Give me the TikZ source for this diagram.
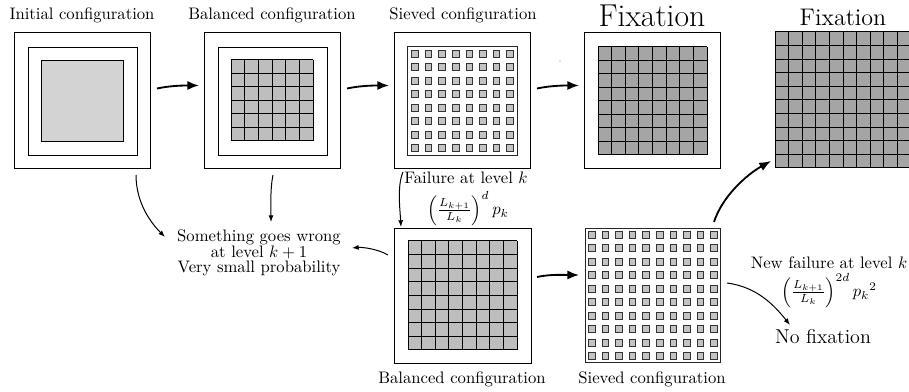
\documentclass[tikz,border=0pt]{standalone}
\usetikzlibrary{arrows.meta}
\definecolor{lightfill}{RGB}{211,211,211}
\definecolor{midfill}{RGB}{190,190,190}
\definecolor{darkfill}{RGB}{165,165,165}
\definecolor{sqfill}{RGB}{195,195,195}
\newcommand{\cellgrid}[6]{%
  \fill[#6] (#1,#2) rectangle (#3,#4);
  \foreach \i in {0,...,#5} {
    \draw[gridline] ({#1+(#3-#1)*\i/#5},#2) -- ({#1+(#3-#1)*\i/#5},#4);
    \draw[gridline] (#1,{#2+(#4-#2)*\i/#5}) -- (#3,{#2+(#4-#2)*\i/#5});
  }}
\newcommand{\sievegrid}[5]{%
  \foreach \i in {1,...,#5} {
    \foreach \j in {1,...,#5} {
      \draw[sq] ({#1+(#3-#1)*(\i-0.5)/#5-3.3},{#2+(#4-#2)*(\j-0.5)/#5-3.3}) rectangle +(6.6,6.6);
    }}}
\begin{document}
\begin{tikzpicture}[x=0.6pt,y=-0.6pt,
  frame/.style={draw=black,line width=0.55pt},
  sieveframe/.style={draw=black!85,line width=1pt},
  gridline/.style={draw=black,line width=0.6pt},
  sq/.style={draw=black!80,fill=sqfill,line width=0.55pt},
  bigarrow/.style={line width=1.1pt,-{Latex[length=7pt,width=5.5pt]}},
  smallarrow/.style={line width=0.6pt,-{Latex[length=4pt,width=3pt]}},
  lbl/.style={anchor=base,inner sep=0pt}]
\useasboundingbox (0,0) rectangle (909,392);

% ---- box 1: initial
\draw[frame] (14,32) rectangle (150,168);
\draw[frame] (28,47) rectangle (137,155);
\draw[frame,fill=lightfill] (41,60) rectangle (123,141);

% ---- box 2: balanced
\draw[frame] (204,32) rectangle (340,168);
\draw[frame] (218,47) rectangle (327,155);
\cellgrid{231}{60}{313}{141}{6}{midfill}

% ---- box 3: sieved
\draw[frame] (394,32) rectangle (530,168);
\draw[sieveframe] (407.5,46.5) rectangle (517.5,155.5);
\sievegrid{408}{47}{517}{155}{8}

% ---- box 4: fixation
\draw[frame] (584,32) rectangle (720,168);
\cellgrid{598}{47}{707}{155}{8}{darkfill}
\fill[black!40] (560,61) circle (0.7);

% ---- box 5: fixation (right, cut)
\begin{scope}
\clip (0,0) rectangle (909,392);
\cellgrid{775}{32}{911}{168}{10}{darkfill}
\end{scope}

% ---- box 6: balanced (lower)
\draw[frame] (394,228) rectangle (531,363);
\cellgrid{408}{241}{517}{350}{8}{midfill}

% ---- box 7: sieved (lower)
\draw[sieveframe] (585.5,228.5) rectangle (720.5,362.5);
\sievegrid{585}{228}{721}{363}{10}

% ---- texts
\node[lbl] (t1) at (82,19.5) {Initial configuration};
\node[lbl] (t2) at (272,19.5) {Balanced configuration};
\node[lbl] (t3) at (463,19.5) {Sieved configuration};
\node[lbl,font=\fontsize{19}{22}\selectfont] (t4) at (652,26.5) {Fixation};
\node[lbl,font=\Large] (t5) at (843,26) {Fixation};
\node[lbl] (f1) at (466,184) {Failure at level $k$};
\node[lbl] (f1p) at (468,215) {$\left(\frac{L_{k+1}}{L_k}\right)^{d} p_k$};
\node[anchor=base,inner sep=0pt,align=center] (wrong) at (259,272.7)
  {Something goes wrong\\[-2.7pt] at level $k+1$\\[-2.7pt] Very small probability};
\node[lbl] (t6) at (462,383.3) {Balanced configuration};
\node[lbl] (t7) at (652,383.3) {Sieved configuration};
\node[lbl] (nf) at (829,268.5) {New failure at level $k$};
\node[lbl] (nfp) at (829,296.7) {$\left(\frac{L_{k+1}}{L_k}\right)^{2d} {p_k}^2$};
\node[lbl,font=\large] (nofix) at (823,343.3) {No fixation};

% ---- connector end points
\coordinate (a1s) at (157,88.5);  \coordinate (a1e) at (199,85.5);
\coordinate (a2s) at (347,88.5);  \coordinate (a2e) at (389,85.5);
\coordinate (a3s) at (537,88.5);  \coordinate (a3e) at (579,85.5);
\coordinate (d1s) at (136,175);   \coordinate (d1e) at (165,237);
\coordinate (d2s) at (273,175);   \coordinate (d2e) at (271,222);
\coordinate (d3s) at (403,172);   \coordinate (d3e) at (401,227);
\coordinate (b6s) at (388,255);   \coordinate (b6e) at (352,248);
\coordinate (b7s) at (537,277);   \coordinate (b7e) at (579,275);
\coordinate (upS) at (714,222);   \coordinate (upE) at (771,161);
\coordinate (nfS) at (727,283);   \coordinate (nfE) at (790,325);

% ---- connectors
\draw[bigarrow] (a1s) .. controls +(14,-3) and +(-14,0) .. (a1e);
\draw[bigarrow] (a2s) .. controls +(14,-3) and +(-14,0) .. (a2e);
\draw[bigarrow] (a3s) .. controls +(14,-3) and +(-14,0) .. (a3e);
\draw[smallarrow] (d1s) .. controls +(0,28) and +(-14,-14) .. (d1e);
\draw[smallarrow] (d2s) .. controls +(-3,14) and +(0,-14) .. (d2e);
\draw[smallarrow] (d3s) .. controls +(-6,14) and +(-1,-18) .. (d3e);
\draw[smallarrow] (b6s) .. controls +(-10,-6) and +(10,-1) .. (b6e);
\draw[bigarrow] (b7s) .. controls +(14,-3) and +(-14,0) .. (b7e);
\draw[bigarrow] (upS) .. controls +(8,-25) and +(-25,14) .. (upE);
\draw[smallarrow] (nfS) .. controls +(30,4) and +(-16,-20) .. (nfE);
\end{tikzpicture}
\end{document}
